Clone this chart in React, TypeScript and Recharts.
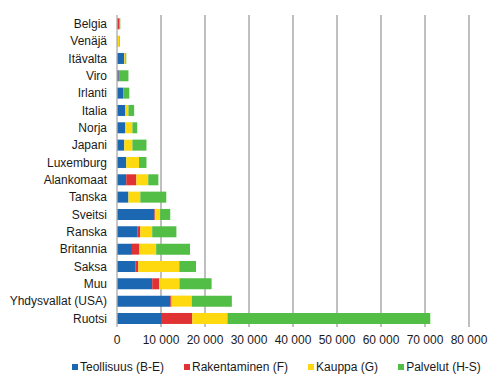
import { BarChart, Bar, XAxis, YAxis, CartesianGrid, Legend } from "recharts";

const countries = [
  "Belgia",
  "Venäjä",
  "Itävalta",
  "Viro",
  "Irlanti",
  "Italia",
  "Norja",
  "Japani",
  "Luxemburg",
  "Alankomaat",
  "Tanska",
  "Sveitsi",
  "Ranska",
  "Britannia",
  "Saksa",
  "Muu",
  "Yhdysvallat (USA)",
  "Ruotsi",
];

const teollisuus = [200, 150, 1650, 400, 1400, 1900, 1900, 1650, 2100, 2100, 2600, 8500, 4600, 3400, 4150, 8000, 12100, 10000];
const rakentaminen = [300, 0, 0, 200, 0, 0, 0, 0, 0, 2300, 0, 200, 700, 1700, 700, 1600, 300, 7100];
const kauppa = [0, 300, 250, 0, 0, 700, 1600, 1850, 2900, 2700, 2700, 1100, 2700, 3800, 9300, 4600, 4600, 8000];
const palvelut = [250, 150, 200, 2000, 1400, 1300, 1100, 3200, 1700, 2300, 5900, 2300, 5500, 7700, 3800, 7300, 9100, 46100];

const xTicks = [0, 10000, 20000, 30000, 40000, 50000, 60000, 70000, 80000];

const series = [
  { key: "teollisuus", name: "Teollisuus (B-E)", color: "#1b67b2" },
  { key: "rakentaminen", name: "Rakentaminen (F)", color: "#e03232" },
  { key: "kauppa", name: "Kauppa (G)", color: "#ffd90f" },
  { key: "palvelut", name: "Palvelut (H-S)", color: "#52be45" },
];

const data = countries.map((name, i) => ({
  name,
  teollisuus: teollisuus[i],
  rakentaminen: rakentaminen[i],
  kauppa: kauppa[i],
  palvelut: palvelut[i],
}));

const font = "'Liberation Sans', Arial, sans-serif";
const tick = { fill: "#1a1a1a", fontSize: 12, fontFamily: font };

const fmt = (v: number) => String(v).replace(/\B(?=(\d{3})+(?!\d))/g, " ");

// plain text tick so long names don't wrap
function CountryTick({ x, y, payload }: any) {
  return (
    <text x={x} y={y} dy="0.355em" textAnchor="end" {...tick}>
      {payload.value}
    </text>
  );
}

function LegendBox() {
  return (
    <div
      style={{
        height: 20,
        display: "flex",
        alignItems: "center",
        paddingLeft: 72,
        fontFamily: font,
        fontSize: 12,
        color: "#1a1a1a",
        whiteSpace: "nowrap",
      }}
    >
      {series.map((s) => (
        <div
          key={s.key}
          style={{ display: "flex", alignItems: "center", marginRight: 20, flexShrink: 0 }}
        >
          <span style={{ width: 6, height: 6, background: s.color, marginRight: 2, flexShrink: 0 }} />
          <span>{s.name}</span>
        </div>
      ))}
    </div>
  );
}

export default function App() {
  return (
    <div style={{ position: "absolute", left: 0, top: 0, background: "#fff" }}>
      <BarChart
        width={502}
        height={386}
        data={data}
        layout="vertical"
        margin={{ top: 15, right: 33, bottom: 9, left: 0 }}
        barCategoryGap="19%"
      >
        <CartesianGrid horizontal={false} stroke="#808080" />
        <XAxis
          type="number"
          domain={[0, 80000]}
          ticks={xTicks}
          tickFormatter={fmt}
          tick={tick}
          axisLine={false}
          tickLine={false}
          interval={0}
          height={30}
        />
        <YAxis
          type="category"
          dataKey="name"
          width={117}
          tick={<CountryTick />}
          tickLine={false}
          tickMargin={4}
          axisLine={{ stroke: "#d0d0d0" }}
          interval={0}
        />
        <Legend
          verticalAlign="bottom"
          wrapperStyle={{ left: 0, width: 502 }}
          content={() => <LegendBox />}
        />
        {series.map((s) => (
          <Bar
            key={s.key}
            dataKey={s.key}
            name={s.name}
            stackId="a"
            fill={s.color}
            isAnimationActive={false}
          />
        ))}
      </BarChart>
    </div>
  );
}
